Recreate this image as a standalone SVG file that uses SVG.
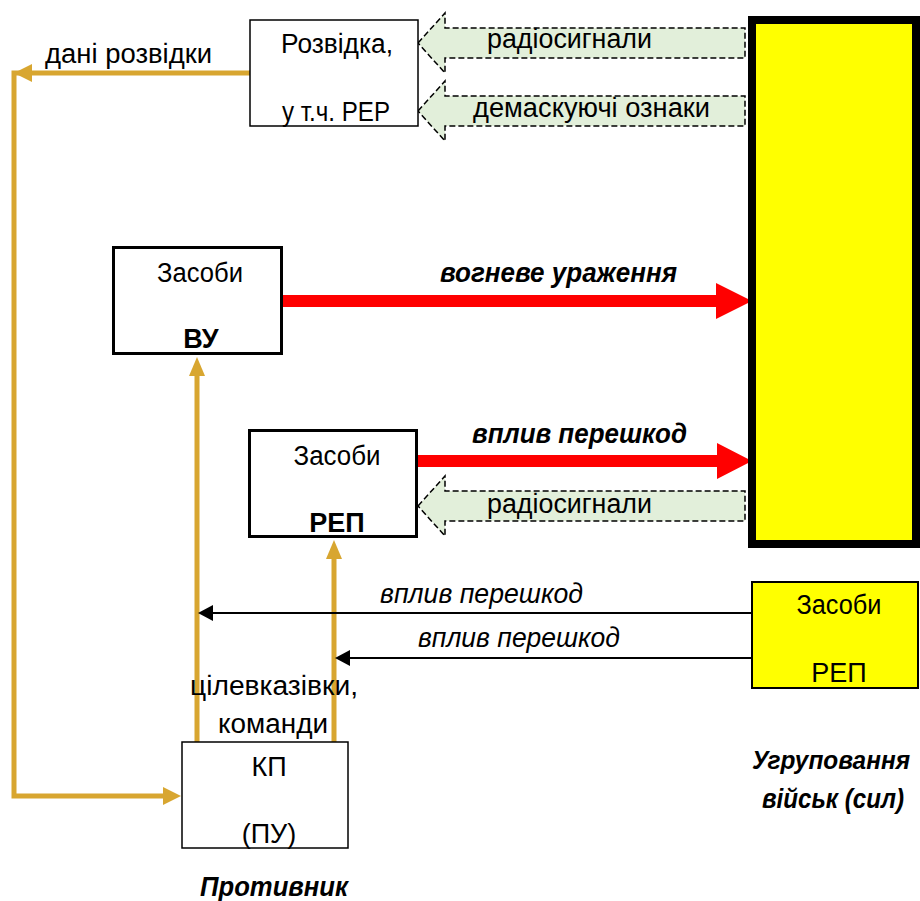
<svg xmlns="http://www.w3.org/2000/svg" width="920" height="901" viewBox="0 0 920 901">
<style>
text{font-family:"Liberation Sans",Arial,sans-serif;font-size:27px;fill:#000}
.c{text-anchor:middle}
.b{font-weight:bold}
.i{font-style:italic}
.box{fill:#fff;stroke:#000}
.gold{stroke:#D8A630;stroke-width:5;fill:none}
.goldh{fill:#D8A630}
.dash{fill:#E2EFDA;stroke:#000;stroke-width:1.5;stroke-dasharray:6,3}
.red{fill:#FF0000}
.thin{stroke:#000;stroke-width:2;fill:none}
</style>
<g id="connectors">
  <polyline class="gold" points="250,73 14,73 14,796 165,796"/>
  <polygon class="goldh" points="14,73 32,64 32,82"/>
  <polygon class="goldh" points="181,796 163,787 163,805"/>
  <line class="gold" x1="197" y1="742" x2="197" y2="372"/>
  <polygon class="goldh" points="197,357 189,376 205,376"/>
  <line class="gold" x1="334" y1="742" x2="334" y2="555"/>
  <polygon class="goldh" points="334,540 326,559 342,559"/>
  <polygon class="dash" points="418,43 445,13 445,28 745,28 745,58 445,58 445,73"/>
  <polygon class="dash" points="418,111 445,81 445,96 745,96 745,126 445,126 445,141"/>
  <polygon class="dash" points="418,506 445,476 445,491 745,491 745,521 445,521 445,536"/>
  <polygon class="red" points="283,295 716,295 716,283 752,301 716,319 716,307 283,307"/>
  <polygon class="red" points="418,455 717,455 717,443 752,461 717,479 717,467 418,467"/>
  <line class="thin" x1="752" y1="613" x2="210" y2="613"/>
  <polygon points="198,613 213,605 213,621" fill="#000"/>
  <line class="thin" x1="752" y1="658" x2="347" y2="658"/>
  <polygon points="335,658 350,650 350,666" fill="#000"/>
  <text x="45" y="63" textLength="167" lengthAdjust="spacingAndGlyphs">дані розвідки</text>
  <text x="487" y="48" textLength="165" lengthAdjust="spacingAndGlyphs">радіосигнали</text>
  <text x="473" y="117" textLength="237" lengthAdjust="spacingAndGlyphs">демаскуючі ознаки</text>
  <text x="440" y="282" class="b i" textLength="237" lengthAdjust="spacingAndGlyphs">вогневе ураження</text>
  <text x="472" y="443" class="b i" textLength="215" lengthAdjust="spacingAndGlyphs">вплив перешкод</text>
  <text x="487" y="513" textLength="165" lengthAdjust="spacingAndGlyphs">радіосигнали</text>
  <text x="380" y="603" class="i" textLength="203" lengthAdjust="spacingAndGlyphs">вплив перешкод</text>
  <text x="418" y="647" class="i" textLength="202" lengthAdjust="spacingAndGlyphs">вплив перешкод</text>
  <text x="274" y="695" class="c" textLength="168" lengthAdjust="spacingAndGlyphs">цілевказівки,</text>
  <text x="273" y="733" class="c" textLength="110" lengthAdjust="spacingAndGlyphs">команди</text>
</g>
<g id="big-group">
  <rect x="752" y="20" width="164" height="524" fill="#FFFF00" stroke="#000" stroke-width="8"/>
</g>
<g id="rozvidka">
  <rect class="box" x="250" y="20" width="168" height="106" stroke-width="1.5"/>
  <text x="337" y="53" class="c" textLength="112" lengthAdjust="spacingAndGlyphs">Розвідка,</text>
  <text x="336" y="121" class="c" textLength="108" lengthAdjust="spacingAndGlyphs">у т.ч. РЕР</text>
</g>
<g id="zasoby-vu">
  <rect class="box" x="113.5" y="247.5" width="168" height="106" stroke-width="3"/>
  <text x="200" y="282" class="c" textLength="86" lengthAdjust="spacingAndGlyphs">Засоби</text>
  <text x="201" y="348" class="c b">ВУ</text>
</g>
<g id="zasoby-rep">
  <rect class="box" x="249.5" y="430.5" width="167" height="106" stroke-width="3"/>
  <text x="337" y="465" class="c" textLength="87" lengthAdjust="spacingAndGlyphs">Засоби</text>
  <text x="337" y="532" class="c b">РЕП</text>
</g>
<g id="zasoby-rep-own">
  <rect x="752" y="582" width="166" height="106" fill="#FFFF00" stroke="#000" stroke-width="2"/>
  <text x="839" y="614" class="c" textLength="85" lengthAdjust="spacingAndGlyphs">Засоби</text>
  <text x="839" y="682" class="c">РЕП</text>
</g>
<g id="kp">
  <rect class="box" x="182" y="742" width="166" height="106" stroke-width="1.5"/>
  <text x="269" y="776" class="c">КП</text>
  <text x="269" y="843" class="c">(ПУ)</text>
</g>
<g id="titles">
  <text x="274" y="896" class="c b i" textLength="148" lengthAdjust="spacingAndGlyphs">Противник</text>
  <text x="831" y="769" class="c b i" style="font-size:25px" textLength="158" lengthAdjust="spacingAndGlyphs">Угруповання</text>
  <text x="833" y="808" class="c b i" textLength="142" lengthAdjust="spacingAndGlyphs">військ (сил)</text>
</g>
</svg>
